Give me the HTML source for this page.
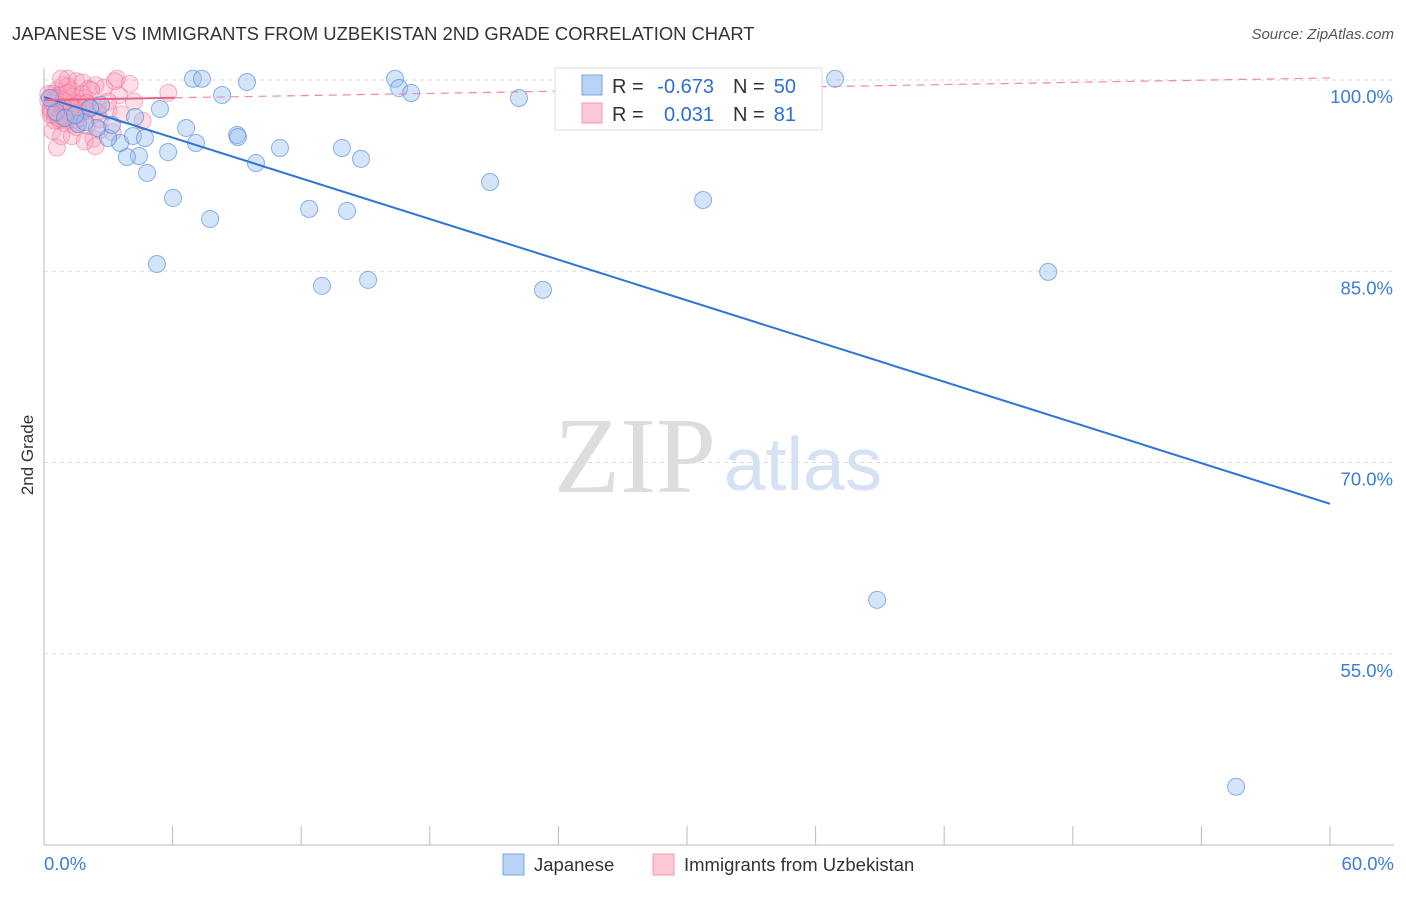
<!DOCTYPE html>
<html><head><meta charset="utf-8"><style>
body{margin:0;background:#fff;font-family:"Liberation Sans",sans-serif;}
svg text{font-family:"Liberation Sans",sans-serif;}
</style></head><body>
<svg width="1406" height="892" id="chart">
<text x="12" y="40" font-size="18.4" fill="#333">JAPANESE VS IMMIGRANTS FROM UZBEKISTAN 2ND GRADE CORRELATION CHART</text>
<text x="1394" y="39" font-size="15" fill="#555" font-style="italic" text-anchor="end">Source: ZipAtlas.com</text>
<text transform="translate(33,455) rotate(-90)" font-size="17" fill="#333" text-anchor="middle">2nd Grade</text>
<g>
<text x="635" y="492" font-size="108" fill="#ddd" text-anchor="middle" style="font-family:'Liberation Serif',serif">ZIP</text>
<text x="803" y="490" font-size="75" fill="#d4e2f4" text-anchor="middle">atlas</text>
</g>
<g id="grid"></g><g id="axes"></g><g id="pink"></g><g id="blue"></g><g id="lines"></g>
<g>
<rect x="555" y="68" width="267" height="62" fill="#fff" stroke="#ddd"/>
<rect x="582" y="75" width="20" height="20" fill="#b8d3f5" stroke="#7aa6e0"/>
<rect x="582" y="103" width="20" height="20" fill="#fcc8d6" stroke="#f09ab3"/>
<text x="612" y="93" font-size="20" fill="#333">R =</text>
<text x="714" y="93" font-size="20" fill="#2b6fd6" text-anchor="end">-0.673</text>
<text x="733" y="93" font-size="20" fill="#333">N =</text>
<text x="796" y="93" font-size="20" fill="#2b6fd6" text-anchor="end">50</text>
<text x="612" y="121" font-size="20" fill="#333">R =</text>
<text x="714" y="121" font-size="20" fill="#2b6fd6" text-anchor="end">0.031</text>
<text x="733" y="121" font-size="20" fill="#333">N =</text>
<text x="796" y="121" font-size="20" fill="#2b6fd6" text-anchor="end">81</text>
</g>
<g>
<rect x="503" y="854" width="21" height="21" fill="#b8d3f5" stroke="#7aa6e0"/>
<text x="534" y="871" font-size="18.5" fill="#333">Japanese</text>
<rect x="653" y="854" width="21" height="21" fill="#fcc8d6" stroke="#f09ab3"/>
<text x="684" y="871" font-size="18.5" fill="#333">Immigrants from Uzbekistan</text>
</g>
</svg>
<script>
const yTicks=[100,85,70,55];
const xTickLabels=["0.0%","60.0%"];
const blueX=[6.95,7.37,9.47,16.38,16.57,17.13,36.91,8.31,22.16,5.41,6.63,9.01,9.05,7.09,11.01,13.9,14.79,9.89,5.79,4.43,3.87,3.55,4.15,4.71,2.99,3.17,2.47,1.59,2.66,4.81,6.02,7.75,12.37,14.14,20.81,30.75,5.27,12.97,15.12,23.28,46.85,38.87,55.62,0.56,0.98,1.91,1.45,2.15,4.25,0.28];
const blueY=[100.1,100.1,99.84,100.1,99.37,98.98,100.1,98.82,98.59,97.73,96.24,95.69,95.53,95.06,94.67,94.67,93.81,93.49,94.35,94.04,93.96,95.06,95.61,95.45,95.45,96.47,96.24,96.55,98.04,92.71,90.75,89.1,89.89,89.73,92.0,90.59,85.57,83.85,84.32,83.54,84.95,59.23,44.57,97.49,97.02,96.71,97.26,97.8,97.1,98.59];
const pinkX=[0.2,0.3,0.4,0.5,0.6,0.7,0.8,0.9,1.0,1.1,1.2,1.3,1.4,1.5,1.6,1.7,1.8,1.9,2.0,2.1,2.2,2.3,2.4,2.5,2.6,2.8,3.0,3.2,3.4,3.5,3.3,3.0,5.8,4.6,4.2,0.4,0.5,0.6,0.7,0.8,0.9,1.0,1.1,1.2,1.3,1.4,1.5,1.6,0.3,0.4,0.5,0.6,0.7,0.8,0.9,1.0,1.1,1.2,1.3,1.4,1.5,1.6,1.7,1.8,1.9,2.0,2.2,2.4,2.6,0.2,0.3,0.5,0.7,0.9,1.1,1.3,2.0,2.5,3.6,4.0,0.8];
const pinkY=[98.4,97.6,98.9,97.2,99.2,96.8,98.0,99.6,97.6,100.1,98.5,99.2,96.5,99.9,98.2,97.0,99.8,98.6,96.4,99.3,97.8,95.4,99.6,98.0,96.9,99.4,97.6,95.9,100.1,98.8,99.9,98.3,99.0,96.8,98.3,96.0,97.4,94.7,98.8,95.6,97.9,96.6,99.5,97.1,95.6,98.2,96.3,97.5,97.8,98.2,96.8,97.4,98.6,97.2,97.9,98.3,96.9,97.5,98.7,97.7,96.9,98.1,97.4,98.9,95.2,97.6,99.2,94.8,96.1,98.9,97.3,98.6,97.0,98.4,99.0,97.9,98.2,97.5,97.3,99.7,100.1];
const blueLine=[[0,98.67],[60,66.76]];
const pinkLine=[[0,98.43],[60,100.16]];
const X0=44,X1=1330,Y100=80,PX=12.75;
const sx=v=>X0+(v/60)*(X1-X0);
const sy=v=>Y100+(100-v)*PX;
const NS="http://www.w3.org/2000/svg";
function mk(tag,attrs,parent){const e=document.createElementNS(NS,tag);for(const k in attrs)e.setAttribute(k,attrs[k]);document.getElementById(parent).appendChild(e);return e;}
yTicks.forEach(t=>{
 const g=mk("line",{x1:44,x2:1394,y1:sy(t),y2:sy(t),stroke:"#ddd","stroke-dasharray":"4,4"},"grid");
 
 
 const l=mk("text",{x:1393,y:sy(t)+23,"font-size":18.5,fill:"#3b7dd8","text-anchor":"end"},"grid");
 l.textContent=t.toFixed(1)+"%";
 
 
});
const ax=mk("line",{x1:44,x2:1394,y1:845,y2:845,stroke:"#bbb"},"axes");


const ay=mk("line",{x1:44,x2:44,y1:68,y2:845,stroke:"#bbb"},"axes");


for(let i=0;i<=10;i++){
 const t=mk("line",{x1:sx(i*6),x2:sx(i*6),y1:826,y2:845,stroke:"#bbb"},"axes");
 
 
}
[[0,"start",44],[60,"end",1394]].forEach((d,i)=>{
 const l=mk("text",{x:d[2],y:870,"font-size":18.5,fill:"#3b7dd8","text-anchor":d[1]},"axes");
 l.textContent=xTickLabels[i];
 
 
});
pinkX.forEach((x,i)=>{
 const c=mk("circle",{cx:sx(x),cy:sy(pinkY[i]),r:8.5,fill:"rgba(248,160,185,0.35)",stroke:"rgba(235,110,150,0.5)","stroke-width":1},"pink");
 
 
});
blueX.forEach((x,i)=>{
 const c=mk("circle",{cx:sx(x),cy:sy(blueY[i]),r:8.5,fill:"rgba(150,190,240,0.4)",stroke:"rgba(70,130,220,0.6)","stroke-width":1},"blue");
 
 
});
const bl=mk("line",{x1:sx(blueLine[0][0]),y1:sy(blueLine[0][1]),x2:sx(blueLine[1][0]),y2:sy(blueLine[1][1]),stroke:"#2f74d6","stroke-width":2},"lines");


const pe=6.1,pyE=pinkLine[0][1]+(pinkLine[1][1]-pinkLine[0][1])*pe/60;
const pl=mk("line",{x1:sx(pinkLine[0][0]),y1:sy(pinkLine[0][1]),x2:sx(pe),y2:sy(pyE),stroke:"#e8638c","stroke-width":2},"lines");


const pd=mk("line",{x1:sx(pe),y1:sy(pyE),x2:sx(pinkLine[1][0]),y2:sy(pinkLine[1][1]),stroke:"#eb8aa8","stroke-width":1.2,"stroke-dasharray":"8,6"},"lines");


</script>
</body></html>
